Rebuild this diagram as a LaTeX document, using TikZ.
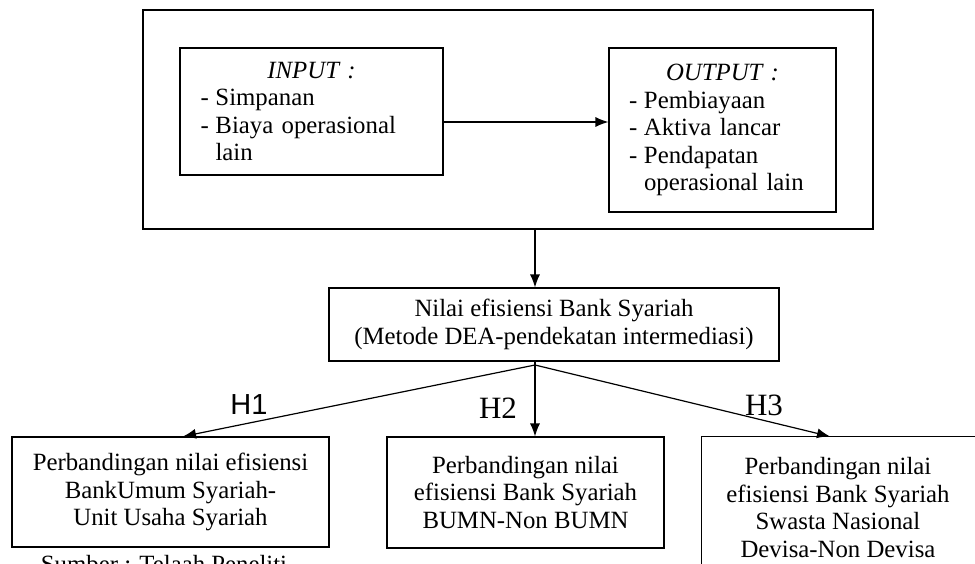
\documentclass[tikz,border=0pt]{standalone}
\usepackage{fontspec}
\setmainfont{Liberation Serif}
\newfontfamily\hsans{Liberation Sans}
\usetikzlibrary{arrows.meta}
\newcommand{\butir}[1]{\makebox[15pt][l]{-}#1}
\begin{document}
\begin{tikzpicture}[x=1pt,y=-1pt,font=\fontsize{24.8}{27.5}\selectfont]
\tikzstyle{box} = [rectangle, draw, line width=1.1pt, inner sep=0pt, align=center]
\tikzstyle{listbox} = [box, align=left]
\tikzstyle{arrow} = [line width=1.2pt,->,>={Latex[length=13pt,width=10pt]}]
\tikzstyle{hlabel} = [font=\fontsize{31}{33}\selectfont]

\useasboundingbox (0,0) rectangle (975,563);

% model DEA
\node (outer) [box, minimum width=730pt, minimum height=219pt] at (508,119.5) {};
\node (input) [listbox, minimum width=263pt, minimum height=127pt, text width=222pt] at (311.5,111.5)
  {\makebox[\linewidth]{\itshape INPUT :}\\ \butir{Simpanan}\\ \butir{Biaya operasional}\\ \hspace*{15pt}lain};
\node (output) [listbox, minimum width=227pt, minimum height=164pt, text width=187pt] at (722.5,130)
  {\makebox[\linewidth]{\itshape OUTPUT :}\\ \butir{Pembiayaan}\\ \butir{Aktiva lancar}\\ \butir{Pendapatan}\\ \hspace*{15pt}operasional lain};

\node (nilai) [box, minimum width=450pt, minimum height=73pt] at (554,324.5)
  {Nilai efisiensi Bank Syariah\\(Metode DEA-pendekatan intermediasi)};
\coordinate (split) at (535,365);

% hipotesis
\node (buus) [box, minimum width=317pt, minimum height=110pt] at (170.5,492)
  {Perbandingan nilai efisiensi\\BankUmum Syariah-\\Unit Usaha Syariah};
\node (bumn) [box, minimum width=277pt, minimum height=111pt] at (525.5,492.5)
  {Perbandingan nilai\\efisiensi Bank Syariah\\BUMN-Non BUMN};
\node (devisa) [box, draw=none, minimum width=272pt, minimum height=141pt] at (838,507.5)
  {Perbandingan nilai\\efisiensi Bank Syariah\\Swasta Nasional\\Devisa-Non Devisa};
% kotak kanan terpotong di tepi gambar
\draw [line width=1.1pt] (devisa.south west) |- ([xshift=20pt]devisa.north east);

\draw [arrow] ([yshift=-10.5pt]input.east) -- ([yshift=-10.5pt]input.east -| output.west);
\draw [arrow] (outer.south -| split) -- (nilai.north -| split);
\draw [line width=1.2pt] (split |- nilai.south) -- (split);
\draw [arrow] (split) -- (buus.north -| 183,0);
\draw [arrow] (split) -- (bumn.north -| split);
\draw [arrow] (split) -- (devisa.north -| 830,0);

\node (h1) [hlabel, font=\hsans\fontsize{29}{31}\selectfont] at (249,405) {H1};
\node (h2) [hlabel] at (498,408) {H2};
\node (h3) [hlabel] at (764,405) {H3};

\node (sumber) [anchor=base] at (164,572) {Sumber : Telaah Peneliti};
\end{tikzpicture}
\end{document}
